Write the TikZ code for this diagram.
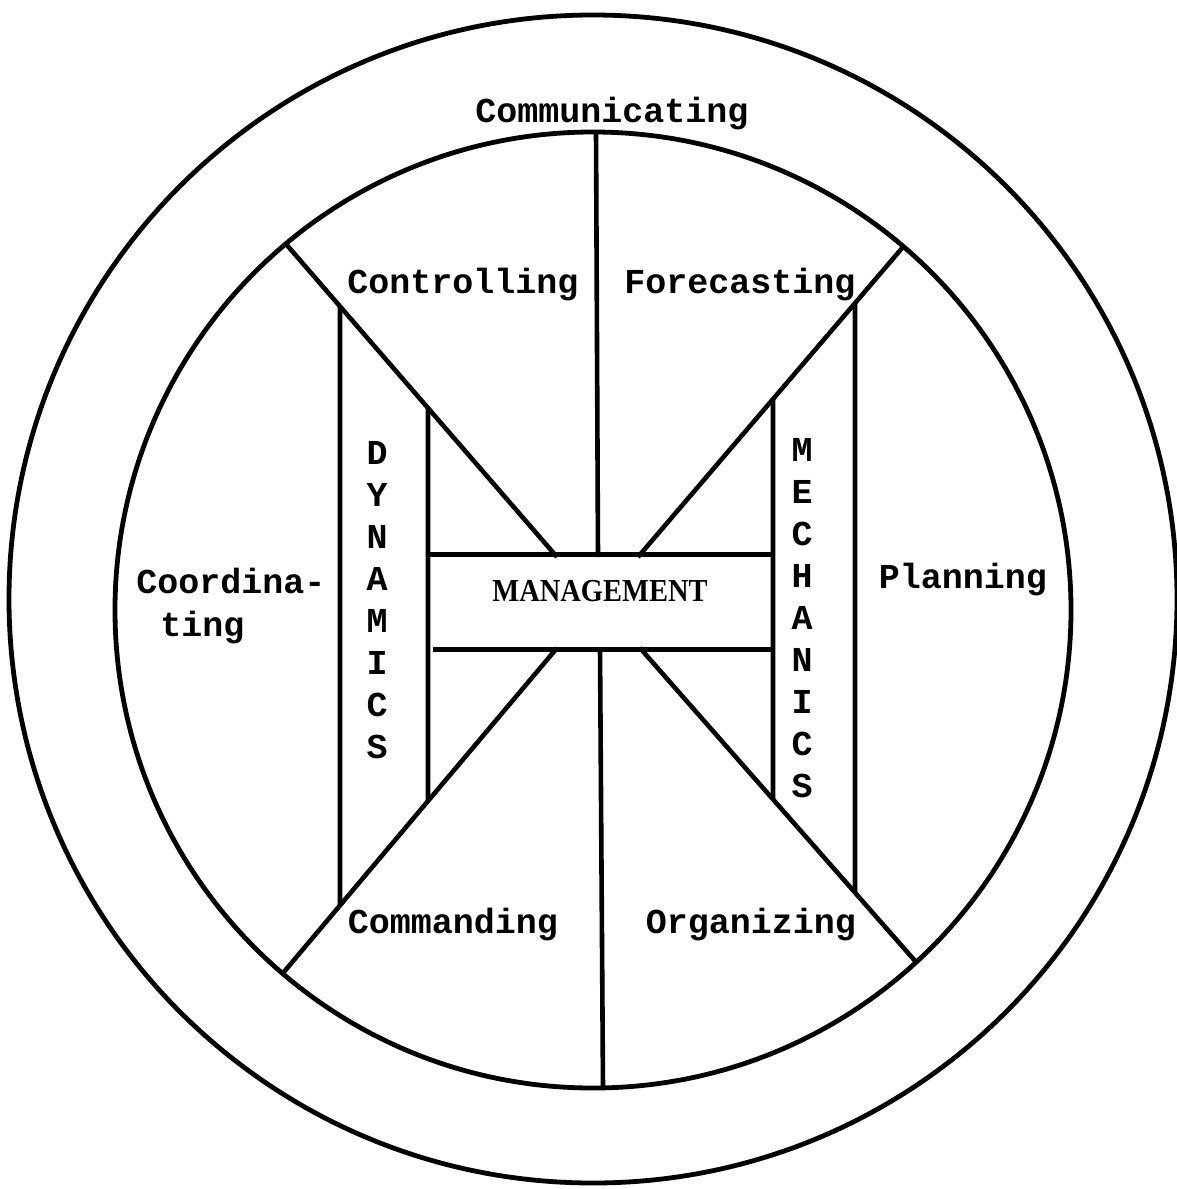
\documentclass[tikz,border=0pt]{standalone}
\usepackage{fontspec}
\newfontfamily\twfont{Liberation Mono}
\newfontfamily\mgfont{Liberation Serif}[FakeStretch=0.89]
\begin{document}
\begin{tikzpicture}[x=0.5pt,y=-0.5pt,line width=2.3pt,
  ring/.style={line width=2.4pt},
  lbl/.style={font=\twfont\bfseries\fontsize{17.5}{21}\selectfont,inner sep=0pt,anchor=base},
  vlbl/.style={font=\twfont\bfseries\fontsize{17.5}{21}\selectfont,inner sep=0pt,align=center,anchor=north},
  mglbl/.style={font=\mgfont\bfseries\fontsize{16}{19}\selectfont,inner sep=0pt,anchor=base},
  mgframe/.style={rectangle,draw=none,inner sep=0pt,minimum width=172.5pt,minimum height=45pt}]
\useasboundingbox (0,0) rectangle (1177,1189);
\fill[white] (0,0) rectangle (1177,1189);
% circles
\coordinate (oc) at (593,599);
\coordinate (ic) at (593,610);
\draw[ring] (oc) circle [radius=584];
\draw[ring] (ic) circle [radius=478];
% management frame
\node[mgframe] (mgbox) at (600.5,602) {};
\node[mglbl] (mgtxt) at (600,601) {MANAGEMENT};
\draw (mgbox.north west) -- (mgbox.north east);
\draw ([xshift=3.5pt]mgbox.south west) -- (mgbox.south east);
% spokes
\coordinate (UL1) at (286,244); \coordinate (UL2) at (557,557);
\coordinate (UR1) at (903,247); \coordinate (UR2) at (638,557);
\coordinate (LL1) at (283,973); \coordinate (LL2) at (557,648);
\coordinate (LR1) at (916,962); \coordinate (LR2) at (640,648);
\coordinate (T1) at (596,132); \coordinate (T2) at (598,557);
\coordinate (B1) at (600,648); \coordinate (B2) at (603,1088);
\draw (UL1) -- (UL2);
\draw (UR1) -- (UR2);
\draw (LL1) -- (LL2);
\draw (LR1) -- (LR2);
\draw (T1) -- (T2);
\draw (B1) -- (B2);
% columns
\coordinate (dOt) at (340,0); \coordinate (dOb) at (340,1189);
\coordinate (dIt) at (428,0); \coordinate (dIb) at (428,1189);
\coordinate (mIt) at (773,0); \coordinate (mIb) at (773,1189);
\coordinate (mOt) at (855,0); \coordinate (mOb) at (855,1189);
\draw (intersection of UL1--UL2 and dOt--dOb) -- (intersection of LL1--LL2 and dOt--dOb);
\draw (intersection of UL1--UL2 and dIt--dIb) -- (intersection of LL1--LL2 and dIt--dIb);
\draw (intersection of UR1--UR2 and mIt--mIb) -- (intersection of LR1--LR2 and mIt--mIb);
\draw (intersection of UR1--UR2 and mOt--mOb) -- (intersection of LR1--LR2 and mOt--mOb);
% labels
\node[lbl] (comm) at (612,122) {Communicating};
\node[lbl] (ctrl) at (463,293) {Controlling};
\node[lbl] (fore) at (740,293) {Forecasting};
\node[lbl,anchor=base west] (coord1) at (134,593) {Coordina-};
\node[lbl,anchor=base west] (coord2) at (158,636) {ting};
\node[lbl] (plan) at (963,588) {Planning};
\node[lbl] (cmd) at (453,933) {Commanding};
\node[lbl] (org) at (751,933) {Organizing};
\node[vlbl] (dyn) at (377,439) {D\\Y\\N\\A\\M\\I\\C\\S};
\node[vlbl] (mech) at (802,436) {M\\E\\C\\H\\A\\N\\I\\C\\S};
\end{tikzpicture}
\end{document}
